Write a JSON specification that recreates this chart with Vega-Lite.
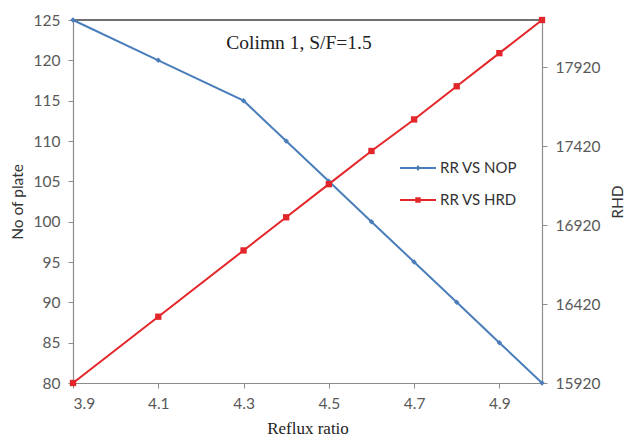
{
  "$schema": "https://vega.github.io/schema/vega-lite/v6.json",
  "width": 469,
  "height": 363,
  "autosize": {"type": "none"},
  "padding": {"left": 73, "top": 20, "right": 83, "bottom": 58},
  "background": "white",
  "config": {
    "view": {"stroke": null},
    "axis": {
      "grid": false,
      "domainColor": "#8c8c8c",
      "domainWidth": 1.2,
      "tickColor": "#8c8c8c",
      "tickSize": 5,
      "labelFont": "Lato",
      "labelFontSize": 15.5,
      "labelColor": "#595959",
      "titleFont": "Lato",
      "titleFontSize": 15.5,
      "titleFontWeight": "normal",
      "titleColor": "#333333"
    }
  },
  "data": {
    "values": [
      {"rr": 3.9, "series": "RR VS NOP", "value": 125},
      {"rr": 4.1, "series": "RR VS NOP", "value": 120},
      {"rr": 4.3, "series": "RR VS NOP", "value": 115},
      {"rr": 4.4, "series": "RR VS NOP", "value": 110},
      {"rr": 4.5, "series": "RR VS NOP", "value": 105},
      {"rr": 4.6, "series": "RR VS NOP", "value": 100},
      {"rr": 4.7, "series": "RR VS NOP", "value": 95},
      {"rr": 4.8, "series": "RR VS NOP", "value": 90},
      {"rr": 4.9, "series": "RR VS NOP", "value": 85},
      {"rr": 5.0, "series": "RR VS NOP", "value": 80},
      {"rr": 3.9, "series": "RR VS HRD", "value": 15920},
      {"rr": 4.1, "series": "RR VS HRD", "value": 16340},
      {"rr": 4.3, "series": "RR VS HRD", "value": 16760},
      {"rr": 4.4, "series": "RR VS HRD", "value": 16970},
      {"rr": 4.5, "series": "RR VS HRD", "value": 17180},
      {"rr": 4.6, "series": "RR VS HRD", "value": 17390},
      {"rr": 4.7, "series": "RR VS HRD", "value": 17590},
      {"rr": 4.8, "series": "RR VS HRD", "value": 17800},
      {"rr": 4.9, "series": "RR VS HRD", "value": 18010},
      {"rr": 5.0, "series": "RR VS HRD", "value": 18220}
    ]
  },
  "layer": [
    {
      "layer": [
        {
          "data": {"values": [{}]},
          "mark": {"type": "rule", "color": "#404040", "strokeWidth": 1.5},
          "encoding": {
            "y": {"datum": 125, "type": "quantitative", "scale": {"domain": [80, 125], "nice": false, "zero": false}}
          }
        },
        {
          "data": {"values": [{}]},
          "mark": {"type": "text", "font": "Liberation Serif", "fontSize": 19.5, "color": "#222222"},
          "encoding": {
            "x": {"datum": 4.43, "type": "quantitative", "scale": {"domain": [3.9, 5.0], "nice": false, "zero": false}},
            "y": {"datum": 122.2, "type": "quantitative", "scale": {"domain": [80, 125], "nice": false, "zero": false}},
            "text": {"value": "Colimn 1, S/F=1.5"}
          }
        },
        {
          "transform": [{"filter": "datum.series === 'RR VS NOP'"}],
          "mark": {"type": "line", "strokeWidth": 2, "point": {"shape": "diamond", "size": 30, "filled": true}},
          "encoding": {
            "x": {
              "field": "rr", "type": "quantitative",
              "scale": {"domain": [3.9, 5.0], "nice": false, "zero": false},
              "axis": {"title": "Reflux ratio", "titleFont": "Liberation Serif", "titleFontSize": 17, "titleColor": "#222222", "values": [3.9, 4.1, 4.3, 4.5, 4.7, 4.9], "format": ".1f", "labelPadding": 8, "titlePadding": 9}
            },
            "y": {
              "field": "value", "type": "quantitative",
              "scale": {"domain": [80, 125], "nice": false, "zero": false},
              "axis": {"title": "No of plate", "values": [80, 85, 90, 95, 100, 105, 110, 115, 120, 125], "labelPadding": 8, "titlePadding": 8}
            },
            "color": {
              "field": "series", "type": "nominal",
              "scale": {"domain": ["RR VS NOP", "RR VS HRD"], "range": ["#4a7ebb", "#e3262a"]},
              "legend": {
                "orient": "none", "legendX": 327, "legendY": 130, "title": null, "padding": 0,
                "symbolSize": 1296, "rowPadding": 6, "labelOffset": 4,
                "labelFont": "Lato", "labelFontSize": 15, "labelColor": "#333333",
                "symbolType": "M-1,-0.055H1V0.055H-1Z",
                "encode": {
                  "symbols": {
                    "update": {
                      "shape": [
                        {"test": "datum.value === 'RR VS NOP'", "value": "M-1,-0.055H1V0.055H-1ZM0,-0.17L0.13,0L0,0.17L-0.13,0Z"},
                        {"value": "M-1,-0.055H1V0.055H-1ZM-0.15,-0.15H0.15V0.15H-0.15Z"}
                      ],
                      "fill": [
                        {"test": "datum.value === 'RR VS NOP'", "value": "#4a7ebb"},
                        {"value": "#e3262a"}
                      ],
                      "fillOpacity": {"value": 1},
                      "strokeWidth": {"value": 0}
                    }
                  }
                }
              }
            }
          }
        }
      ]
    },
    {
      "transform": [{"filter": "datum.series === 'RR VS HRD'"}],
      "mark": {"type": "line", "strokeWidth": 2, "point": {"shape": "square", "size": 40, "filled": true}},
      "encoding": {
        "x": {"field": "rr", "type": "quantitative", "scale": {"domain": [3.9, 5.0], "nice": false, "zero": false}},
        "y": {
          "field": "value", "type": "quantitative",
          "scale": {"domain": [15920, 18220], "nice": false, "zero": false},
          "axis": {"orient": "right", "title": "RHD", "titleAngle": 270, "values": [15920, 16420, 16920, 17420, 17920], "format": "d", "labelPadding": 8, "titlePadding": 26}
        },
        "color": {
          "field": "series", "type": "nominal",
          "scale": {"domain": ["RR VS NOP", "RR VS HRD"], "range": ["#4a7ebb", "#e3262a"]}
        }
      }
    }
  ],
  "resolve": {"scale": {"y": "independent"}}
}
